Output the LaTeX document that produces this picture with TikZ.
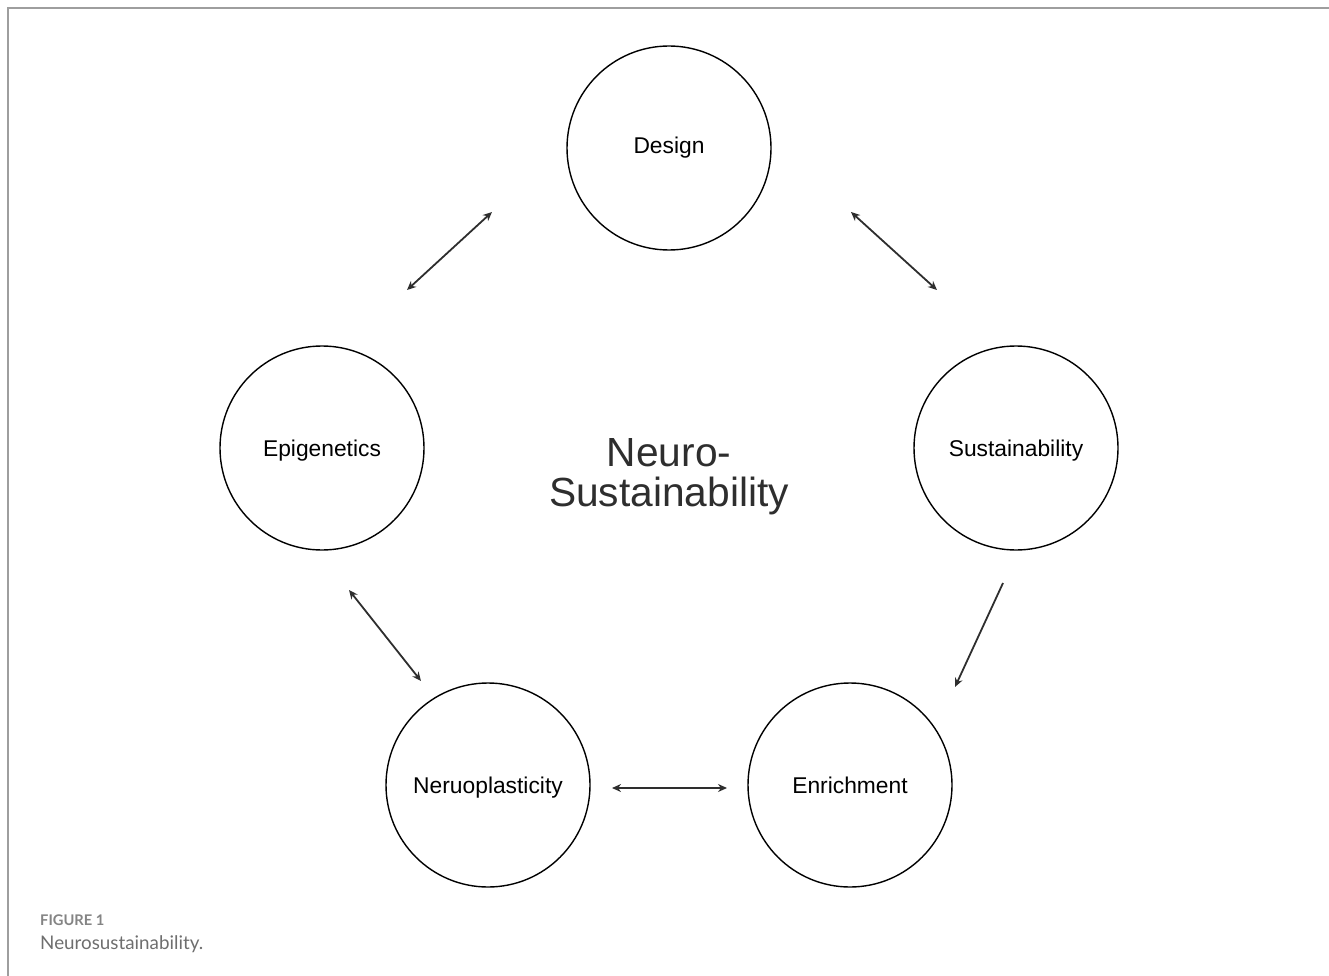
\documentclass[tikz,border=0pt]{standalone}
\usepackage{fontspec}
\setmainfont{Liberation Sans}
\newfontfamily\capfont{Lato}
\usetikzlibrary{arrows.meta}

\definecolor{inkgrey}{HTML}{2E2E2E}
\definecolor{framegrey}{HTML}{9E9E9E}
\definecolor{capgrey}{HTML}{6E6E6E}

\tikzset{
  topic/.style={draw=black, line width=1.4pt, circle, minimum size=204pt, inner sep=0pt,
    text height=20pt, text depth=2.5pt, font=\fontsize{22.8}{26}\selectfont},
  link/.style={draw=inkgrey, line width=1.8pt, {Stealth[length=9pt,width=8pt]}-{Stealth[length=9pt,width=8pt]}},
  onelink/.style={draw=inkgrey, line width=1.8pt, -{Stealth[length=9pt,width=8pt]}}
}

\begin{document}
\begin{tikzpicture}[x=1pt,y=-1pt]
\useasboundingbox (0,0) rectangle (1329,976);
\draw[framegrey, line width=2pt] (7.5,976) -- (7.5,8.5) -- (1329,8.5);

\node[topic, text height=16.5pt, text depth=5pt] (design) at (669,148) {Design};
\node[topic] (epi) at (322,448) {Epigenetics};
\node[topic] (sust) at (1016,448) {Sustainability};
\node[topic] (neuro) at (488,785) {Neruoplasticity};
\node[topic] (enrich) at (850,785) {Enrichment};

\node[align=center, text=inkgrey, font=\fontsize{40.7}{40}\selectfont] (title) at (669,477)
  {Neuro-\\Sustainability};

% arrow end points
\coordinate (a1) at (407,290); \coordinate (b1) at (492,212);
\coordinate (a2) at (851,212); \coordinate (b2) at (937,290);
\coordinate (a3) at (1003,583); \coordinate (b3) at (955,687);
\coordinate (a4) at (727,788); \coordinate (b4) at (612,788);
\coordinate (a5) at (421,681); \coordinate (b5) at (349,590);

\foreach\i in {1,2,4,5}
  {
  \draw[link] (a\i) -- (b\i);
  }
% only one way here
\draw[onelink] (a3) -- (b3);

\node[anchor=base west, inner sep=0pt, text=capgrey!85, font=\capfont\bfseries\fontsize{14.7}{17}\selectfont] (fig) at (40,925) {FIGURE 1};
\node[anchor=base west, inner sep=0pt, text=capgrey, font=\capfont\fontsize{18.8}{22}\selectfont] (cap) at (40,949) {Neurosustainability.};
\end{tikzpicture}
\end{document}
